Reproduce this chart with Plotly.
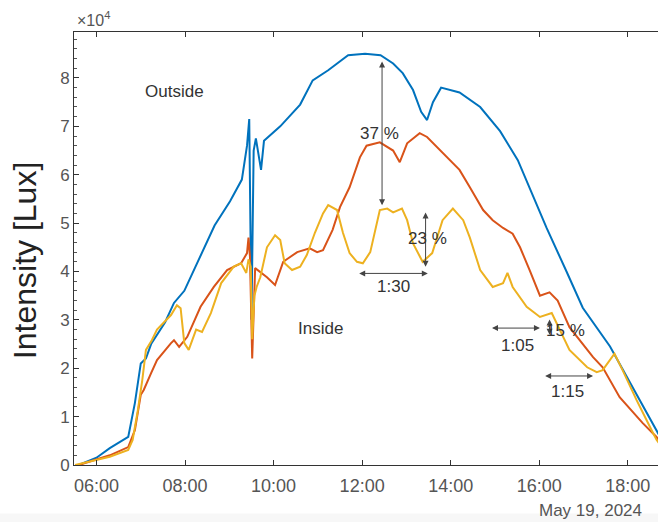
import pandas as pd
import plotly.graph_objects as go

DAY = "2024-05-19 "

# Outside (blue), values in 10^4 lux
t_out = ["05:36", "06:00", "06:18", "06:43", "06:52", "07:00", "07:07", "07:14", "07:33", "07:45",
         "07:59", "08:20", "08:40", "09:01", "09:17", "09:24", "09:27", "09:30", "09:33", "09:36",
         "09:43", "09:47", "10:09", "10:36", "10:53", "11:14", "11:41", "12:04", "12:25", "12:42",
         "12:55", "13:09", "13:20", "13:28", "13:36", "13:47", "14:12", "14:40", "15:07", "15:31",
         "16:10", "16:37", "16:59", "17:36", "18:07", "18:39", "18:45"]
v_out = [0.0, 0.15, 0.35, 0.58, 1.28, 2.1, 2.2, 2.5, 2.95, 3.35,
         3.6, 4.3, 4.95, 5.45, 5.9, 6.6, 7.15, 3.0, 6.5, 6.75,
         6.1, 6.7, 7.0, 7.45, 7.95, 8.16, 8.47, 8.5, 8.47, 8.3,
         8.1, 7.75, 7.3, 7.13, 7.5, 7.8, 7.7, 7.4, 6.9, 6.3,
         4.9, 4.0, 3.25, 2.45, 1.6, 0.7, 0.55]

# Inside sensor 1 (red)
t_red = ["05:36", "06:18", "06:43", "06:52", "07:00", "07:04", "07:14", "07:22", "07:41", "07:45",
         "07:52", "08:03", "08:21", "08:39", "08:57", "09:16", "09:24", "09:26", "09:28", "09:31",
         "09:35", "09:51", "10:02", "10:13", "10:32", "10:49", "10:59", "11:07", "11:20", "11:30",
         "11:43", "11:57", "12:06", "12:24", "12:42", "12:51", "13:01", "13:18", "13:28", "13:49",
         "14:12", "14:26", "14:44", "14:57", "15:11", "15:24", "15:34", "15:47", "16:01", "16:14",
         "16:25", "16:41", "17:13", "17:26", "17:49", "18:20", "18:39", "18:45"]
v_red = [0.0, 0.2, 0.37, 0.72, 1.45, 1.55, 1.9, 2.17, 2.52, 2.58,
         2.44, 2.65, 3.27, 3.68, 4.03, 4.17, 4.38, 4.7, 4.3, 2.2,
         4.07, 3.88, 3.72, 4.2, 4.4, 4.48, 4.4, 4.44, 4.86, 5.33,
         5.74, 6.36, 6.6, 6.67, 6.5, 6.26, 6.65, 6.86, 6.78, 6.45,
         6.1, 5.74, 5.27, 5.06, 4.9, 4.78, 4.5, 4.03, 3.5, 3.57,
         3.4, 2.85, 2.23, 2.02, 1.4, 0.87, 0.58, 0.45]

# Inside sensor 2 (yellow)
t_yel = ["05:31", "06:18", "06:43", "06:49", "06:56", "07:02", "07:07", "07:15", "07:22", "07:41",
         "07:49", "07:54", "07:59", "08:05", "08:15", "08:23", "08:35", "08:49", "09:06", "09:16",
         "09:23", "09:26", "09:29", "09:31", "09:34", "09:37", "09:42", "09:51", "10:02", "10:09",
         "10:15", "10:25", "10:36", "10:45", "10:56", "11:07", "11:14", "11:26", "11:34", "11:43",
         "11:53", "12:01", "12:11", "12:20", "12:24", "12:34", "12:42", "12:54", "13:01", "13:09",
         "13:22", "13:35", "13:49", "14:03", "14:17", "14:26", "14:35", "14:40", "14:57", "15:11",
         "15:17", "15:24", "15:43", "16:01", "16:17", "16:28", "16:41", "17:05", "17:18", "17:26",
         "17:36", "17:42", "17:53", "18:12", "18:30", "18:39", "18:45"]
v_yel = [0.0, 0.17, 0.31, 0.52, 1.13, 1.75, 2.38, 2.58, 2.8, 3.1,
         3.3, 3.24, 2.52, 2.38, 2.8, 2.75, 3.14, 3.76, 4.1, 4.17,
         3.97, 4.25, 4.1, 2.6, 3.5, 3.68, 3.88, 4.5, 4.75, 4.65,
         4.17, 4.03, 4.1, 4.34, 4.8, 5.2, 5.37, 5.27, 4.8, 4.38,
         4.2, 4.17, 4.4, 5.0, 5.27, 5.3, 5.22, 5.3, 5.06, 4.58,
         4.2, 4.38, 5.06, 5.3, 5.06, 4.7, 4.24, 4.03, 3.68, 3.76,
         3.97, 3.68, 3.27, 3.06, 3.14, 2.8, 2.38, 2.02, 1.92, 1.96,
         2.17, 2.3, 1.96, 1.34, 0.79, 0.52, 0.4]

tick_times = ["06:00", "08:00", "10:00", "12:00", "14:00", "16:00", "18:00"]
y_ticks = [0, 1, 2, 3, 4, 5, 6, 7, 8]

# Vertical (percent) arrows: time, value top, value bottom
v_arrow_t = ["12:27", "13:26", "16:14"]
v_arrow_top = [8.37, 5.25, 3.04]
v_arrow_bot = [5.37, 4.1, 2.69]
# Horizontal (duration) arrows: value, time start, time end
h_arrow_v = [3.96, 2.83, 1.84]
h_arrow_t0 = ["11:54", "14:54", "16:06"]
h_arrow_t1 = ["13:29", "16:01", "17:13"]

labels = ["Outside", "Inside", "37 %", "23 %", "1:30", "1:05", "15 %", "1:15"]
label_t = ["07:46", "11:03", "12:24", "13:29", "12:42", "15:31", "16:36", "16:38"]
label_v = [7.73, 2.83, 6.86, 4.69, 3.68, 2.48, 2.79, 1.51]


def ts(lst):
    return pd.to_datetime([DAY + s for s in lst])


fig = go.Figure()
fig.add_trace(go.Scatter(x=ts(t_out), y=v_out, mode="lines", line=dict(color="#0072BD", width=2)))
fig.add_trace(go.Scatter(x=ts(t_red), y=v_red, mode="lines", line=dict(color="#D95319", width=2)))
fig.add_trace(go.Scatter(x=ts(t_yel), y=v_yel, mode="lines", line=dict(color="#EDB120", width=2)))

ann = []
for t, a, b in zip(v_arrow_t, v_arrow_top, v_arrow_bot):
    tt = DAY + t
    ann.append(dict(x=tt, y=b, ax=tt, ay=a, xref="x", yref="y", axref="x", ayref="y",
                    text="", showarrow=True, arrowhead=2, arrowsize=1.2, arrowwidth=1,
                    arrowcolor="#444", arrowside="end+start"))
for v, t0, t1 in zip(h_arrow_v, h_arrow_t0, h_arrow_t1):
    ann.append(dict(x=DAY + t1, y=v, ax=DAY + t0, ay=v, xref="x", yref="y", axref="x", ayref="y",
                    text="", showarrow=True, arrowhead=2, arrowsize=1.2, arrowwidth=1,
                    arrowcolor="#444", arrowside="end+start"))
for txt, t, v in zip(labels, label_t, label_v):
    ann.append(dict(x=DAY + t, y=v, xref="x", yref="y", text=txt, showarrow=False,
                    font=dict(size=17, color="#333")))
ann.append(dict(x=0.002, y=1.03, xref="paper", yref="paper", text="×10<sup>4</sup>",
                showarrow=False, xanchor="left", yanchor="middle",
                font=dict(size=16, color="#555")))
ann.append(dict(x=0.884, y=-0.104, xref="paper", yref="paper", text="May 19, 2024",
                showarrow=False, xanchor="center", yanchor="middle",
                font=dict(size=17, color="#555")))
# y-axis title
ann.append(dict(x=-0.084, y=0.473, xref="paper", yref="paper", text="Intensity [Lux]",
                textangle=-90, showarrow=False, xanchor="center", yanchor="middle",
                font=dict(size=32, color="#222")))

fig.update_layout(
    width=658, height=522,
    margin=dict(l=74, r=0, t=32, b=57),
    paper_bgcolor="white", plot_bgcolor="white",
    showlegend=False,
    font=dict(family="Liberation Sans, Arial, sans-serif"),
    annotations=ann,
    shapes=[dict(type="rect", xref="paper", yref="paper", x0=-0.2, x1=1.05,
                 y0=-0.112, y1=-0.14, fillcolor="#f7f7f7", line=dict(width=0), layer="below")],
    xaxis=dict(
        range=[DAY + "05:29:30", DAY + "18:41"],
        tickvals=ts(tick_times), ticktext=tick_times,
        ticks="inside", ticklen=5, tickcolor="#333",
        showline=True, linecolor="#333", linewidth=1, mirror="ticks",
        showgrid=False, zeroline=False,
        ticklabelstandoff=4,
        tickfont=dict(size=18, color="#555"),
    ),
    yaxis=dict(
        range=[0, 8.95],
        tickvals=y_ticks, ticktext=[str(v) for v in y_ticks],
        ticks="inside", ticklen=5, tickcolor="#333",
        minor=dict(ticks="inside", ticklen=3, dtick=0.2, tickcolor="#555"),
        showline=True, linecolor="#333", linewidth=1,
        showgrid=False, zeroline=False,
        tickfont=dict(size=17, color="#555"),
    ),
)

fig.write_html("out.html")
